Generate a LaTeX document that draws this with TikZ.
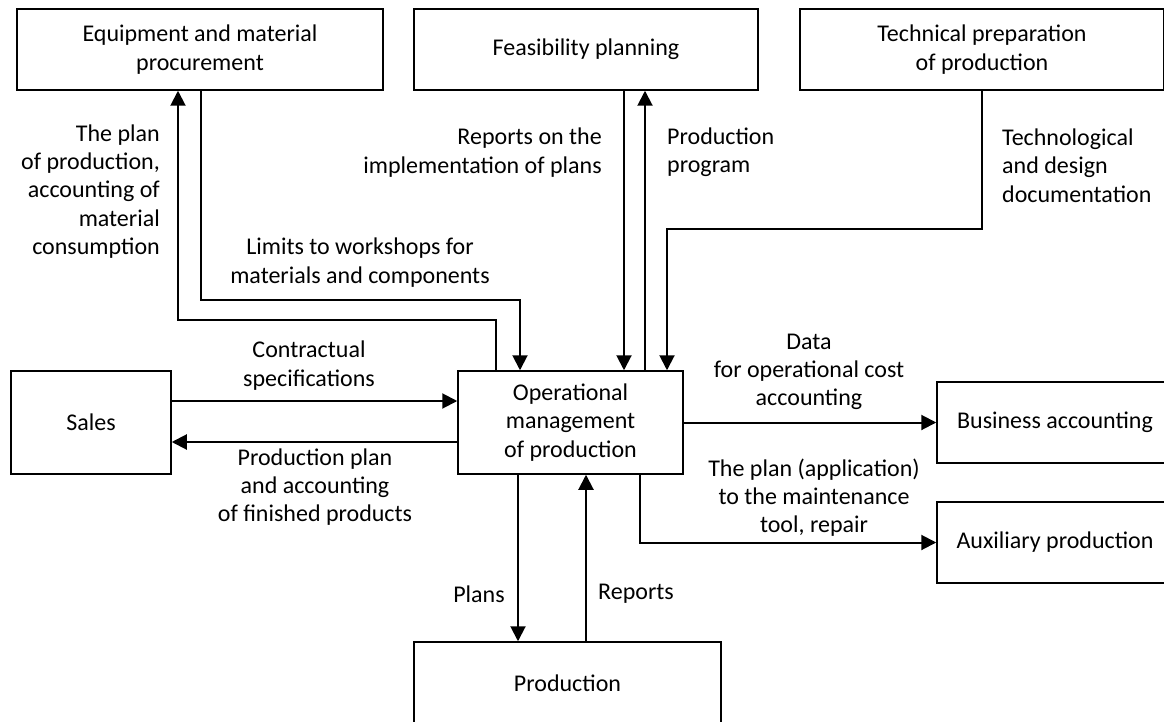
\documentclass[tikz,border=0pt]{standalone}
\usepackage{fontspec}
\setmainfont{Carlito}
\usetikzlibrary{arrows.meta}
\newcommand{\diafont}{\fontsize{24}{28.3}\selectfont}
\begin{document}
\begin{tikzpicture}[x=1pt,y=-1pt,
  box/.style={draw,line width=1.5pt,inner sep=0pt,align=center,font=\diafont},
  lab/.style={inner sep=0pt,font=\diafont},
  conn/.style={line width=2pt,-{Triangle[length=15pt,width=15pt]}}]
\useasboundingbox (0,0) rectangle (1164,722);
% boxes
\node[box,minimum width=366pt,minimum height=81pt] (equip) at (200,49.5) {Equipment and material\\procurement};
\node[box,minimum width=344pt,minimum height=81pt] (feas) at (586,49.5) {Feasibility planning};
\node[box,minimum width=364pt,minimum height=81pt] (tech) at (982,49.5) {Technical preparation\\of production};
\node[box,minimum width=160pt,minimum height=103pt] (sales) at (91,422.5) {Sales};
\node[box,minimum width=225pt,minimum height=103pt] (op) at (570.5,422.5) {Operational\\management\\of production};
\node[box,minimum width=236pt,minimum height=81pt] (bus) at (1055,422.5) {Business accounting};
\node[box,minimum width=236pt,minimum height=81pt] (aux) at (1055,542.5) {Auxiliary production};
\node[box,minimum width=307pt,minimum height=82pt] (prod) at (567.5,683) {Production};
% helper coordinates
\coordinate (r401) at (0,401);
\coordinate (r442) at (0,442);
\coordinate (r320) at (0,320);
\coordinate (r300) at (0,300);
\coordinate (r229) at (0,229);
\coordinate (c496) at (496,0);
\coordinate (c178) at (178,0);
\coordinate (c201) at (201,0);
\coordinate (c520) at (520,0);
\coordinate (c624) at (624,0);
\coordinate (c645) at (645,0);
\coordinate (c667) at (667,0);
\coordinate (c640) at (640,0);
\coordinate (c518) at (518,0);
\coordinate (c586) at (586,0);
% connectors
\draw[conn] (sales.east |- r401) -- (op.west |- r401);
\draw[conn] (op.west |- r442) -- (sales.east |- r442);
\draw[conn] (c496 |- op.north) -- (c496 |- r320) -- (c178 |- r320) -- (c178 |- equip.south);
\draw[conn] (c201 |- equip.south) -- (c201 |- r300) -- (c520 |- r300) -- (c520 |- op.north);
\draw[conn] (c624 |- feas.south) -- (c624 |- op.north);
\draw[conn] (c645 |- op.north) -- (c645 |- feas.south);
\draw[conn] (tech.south) -- (tech.south |- r229) -- (c667 |- r229) -- (c667 |- op.north);
\draw[conn] (op.east) -- (bus.west);
\draw[conn] (c640 |- op.south) -- (c640 |- aux.west) -- (aux.west);
\draw[conn] (c518 |- op.south) -- (c518 |- prod.north);
\draw[conn] (c586 |- prod.north) -- (c586 |- op.south);
% labels
\node[lab,align=right,anchor=east] (l1) at (160,191.5) {The plan\\of production,\\accounting of\\material\\consumption};
\node[lab,align=center] (l2) at (360,262.5) {Limits to workshops for\\materials and components};
\node[lab,align=right,anchor=east] (l3) at (602,152.5) {Reports on the\\implementation of plans};
\node[lab,align=left,anchor=west] (l4) at (667,152.5) {Production\\program};
\node[lab,align=left,anchor=west] (l5) at (1002,165.5) {Technological\\and design\\documentation};
\node[lab,align=center] (l6) at (309,365.5) {Contractual\\specifications};
\node[lab,align=center] (l7) at (315,487) {Production plan\\and accounting\\of finished products};
\node[lab] (l8) at (479,594) {Plans};
\node[lab] (l9) at (636,594) {Reports};
\node[lab,align=center] (l10) at (809,372) {Data\\for operational cost\\accounting};
\node[lab,align=center] (l11) at (814,497.5) {The plan (application)\\to the maintenance\\tool, repair};
\end{tikzpicture}
\end{document}
